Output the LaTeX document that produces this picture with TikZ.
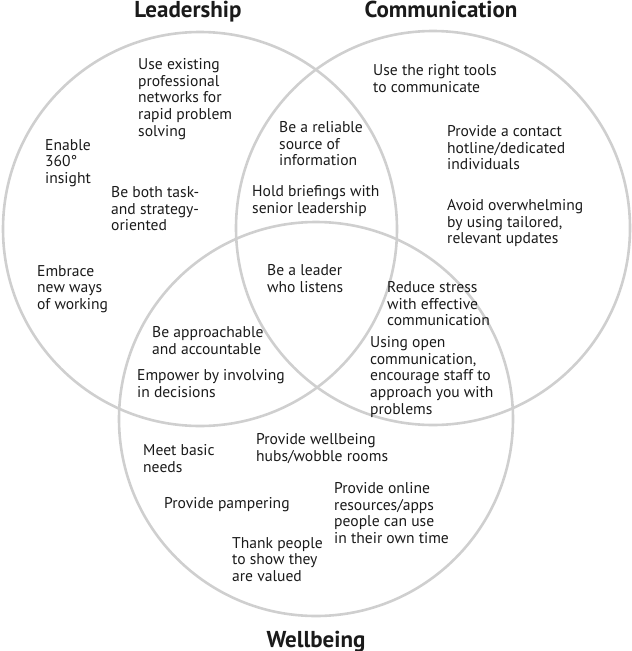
\documentclass[tikz,border=0pt]{standalone}
\usepackage{fontspec}
\setmainfont{PT Sans}
\usepackage{tikz}
\usetikzlibrary{positioning}
\definecolor{ring}{HTML}{CFCFCF}
\definecolor{ink}{HTML}{1A1A1A}
\tikzset{
  setcircle/.style={circle,draw=ring,line width=2.6pt,inner sep=0pt,minimum size=394pt},
  settitle/.style={text=ink,font=\bfseries\fontsize{23}{26}\selectfont,inner sep=0pt,anchor=base},
  item/.style={text=ink,font=\fontsize{15.6}{16.8}\selectfont,align=left,anchor=north west,inner sep=0pt}
}
\begin{document}
\begin{tikzpicture}[x=1pt,y=-1pt]
  \useasboundingbox (0,0) rectangle (632,651);
  % the three sets
  \node[setcircle] (lead) at (200,229) {};
  \node[setcircle] (comm) at (433,228) {};
  \node[setcircle] (well) at (316,419) {};
  \node[settitle] (leadtitle) at (188,17) {Leadership};
  \node[settitle] (commtitle) at (441,17) {Communication};
  \node[settitle] (welltitle) at (316,647) {Wellbeing};

  % leadership only
  \node[item] (networks) at (138,58) {Use existing\\professional\\networks for\\rapid problem\\solving};
  \node[item] (insight) at (45,139) {Enable\\360°\\insight};
  \node[item] (taskstrat) at (111,186) {Be both task-\\and strategy-\\oriented};
  \node[item] (newways) at (37,265) {Embrace\\new ways\\of working};

  % leadership and communication
  \node[item] (reliable) at (279,121) {Be a reliable\\source of\\information};
  \node[item] (briefings) at (252,185) {Hold briefings with\\senior leadership};

  % communication only
  \node[item] (tools) at (373,64) {Use the right tools\\to communicate};
  \node[item] (hotline) at (447,125) {Provide a contact\\hotline/dedicated\\individuals};
  \node[item] (tailored) at (447,199) {Avoid overwhelming\\by using tailored,\\relevant updates};

  % centre
  \node[item] (listens) at (267,264) {Be a leader\\who listens};

  % communication and wellbeing
  \node[item] (stress) at (387,281) {Reduce stress\\with effective\\communication};
  \node[item] (openness) at (370,336) {Using open\\communication,\\encourage staff to\\approach you with\\problems};

  % leadership and wellbeing
  \node[item] (approach) at (152,326) {Be approachable\\and accountable};
  \node[item] (empower) at (137,369) {Empower by involving\\in decisions};

  % wellbeing only
  \node[item] (basic) at (143,444) {Meet basic\\needs};
  \node[item] (hubs) at (256,433) {Provide wellbeing\\hubs/wobble rooms};
  \node[item] (pamper) at (164,497) {Provide pampering};
  \node[item] (online) at (334,482) {Provide online\\resources/apps\\people can use\\in their own time};
  \node[item] (thanks) at (232,537) {Thank people\\to show they\\are valued};
\end{tikzpicture}
\end{document}
